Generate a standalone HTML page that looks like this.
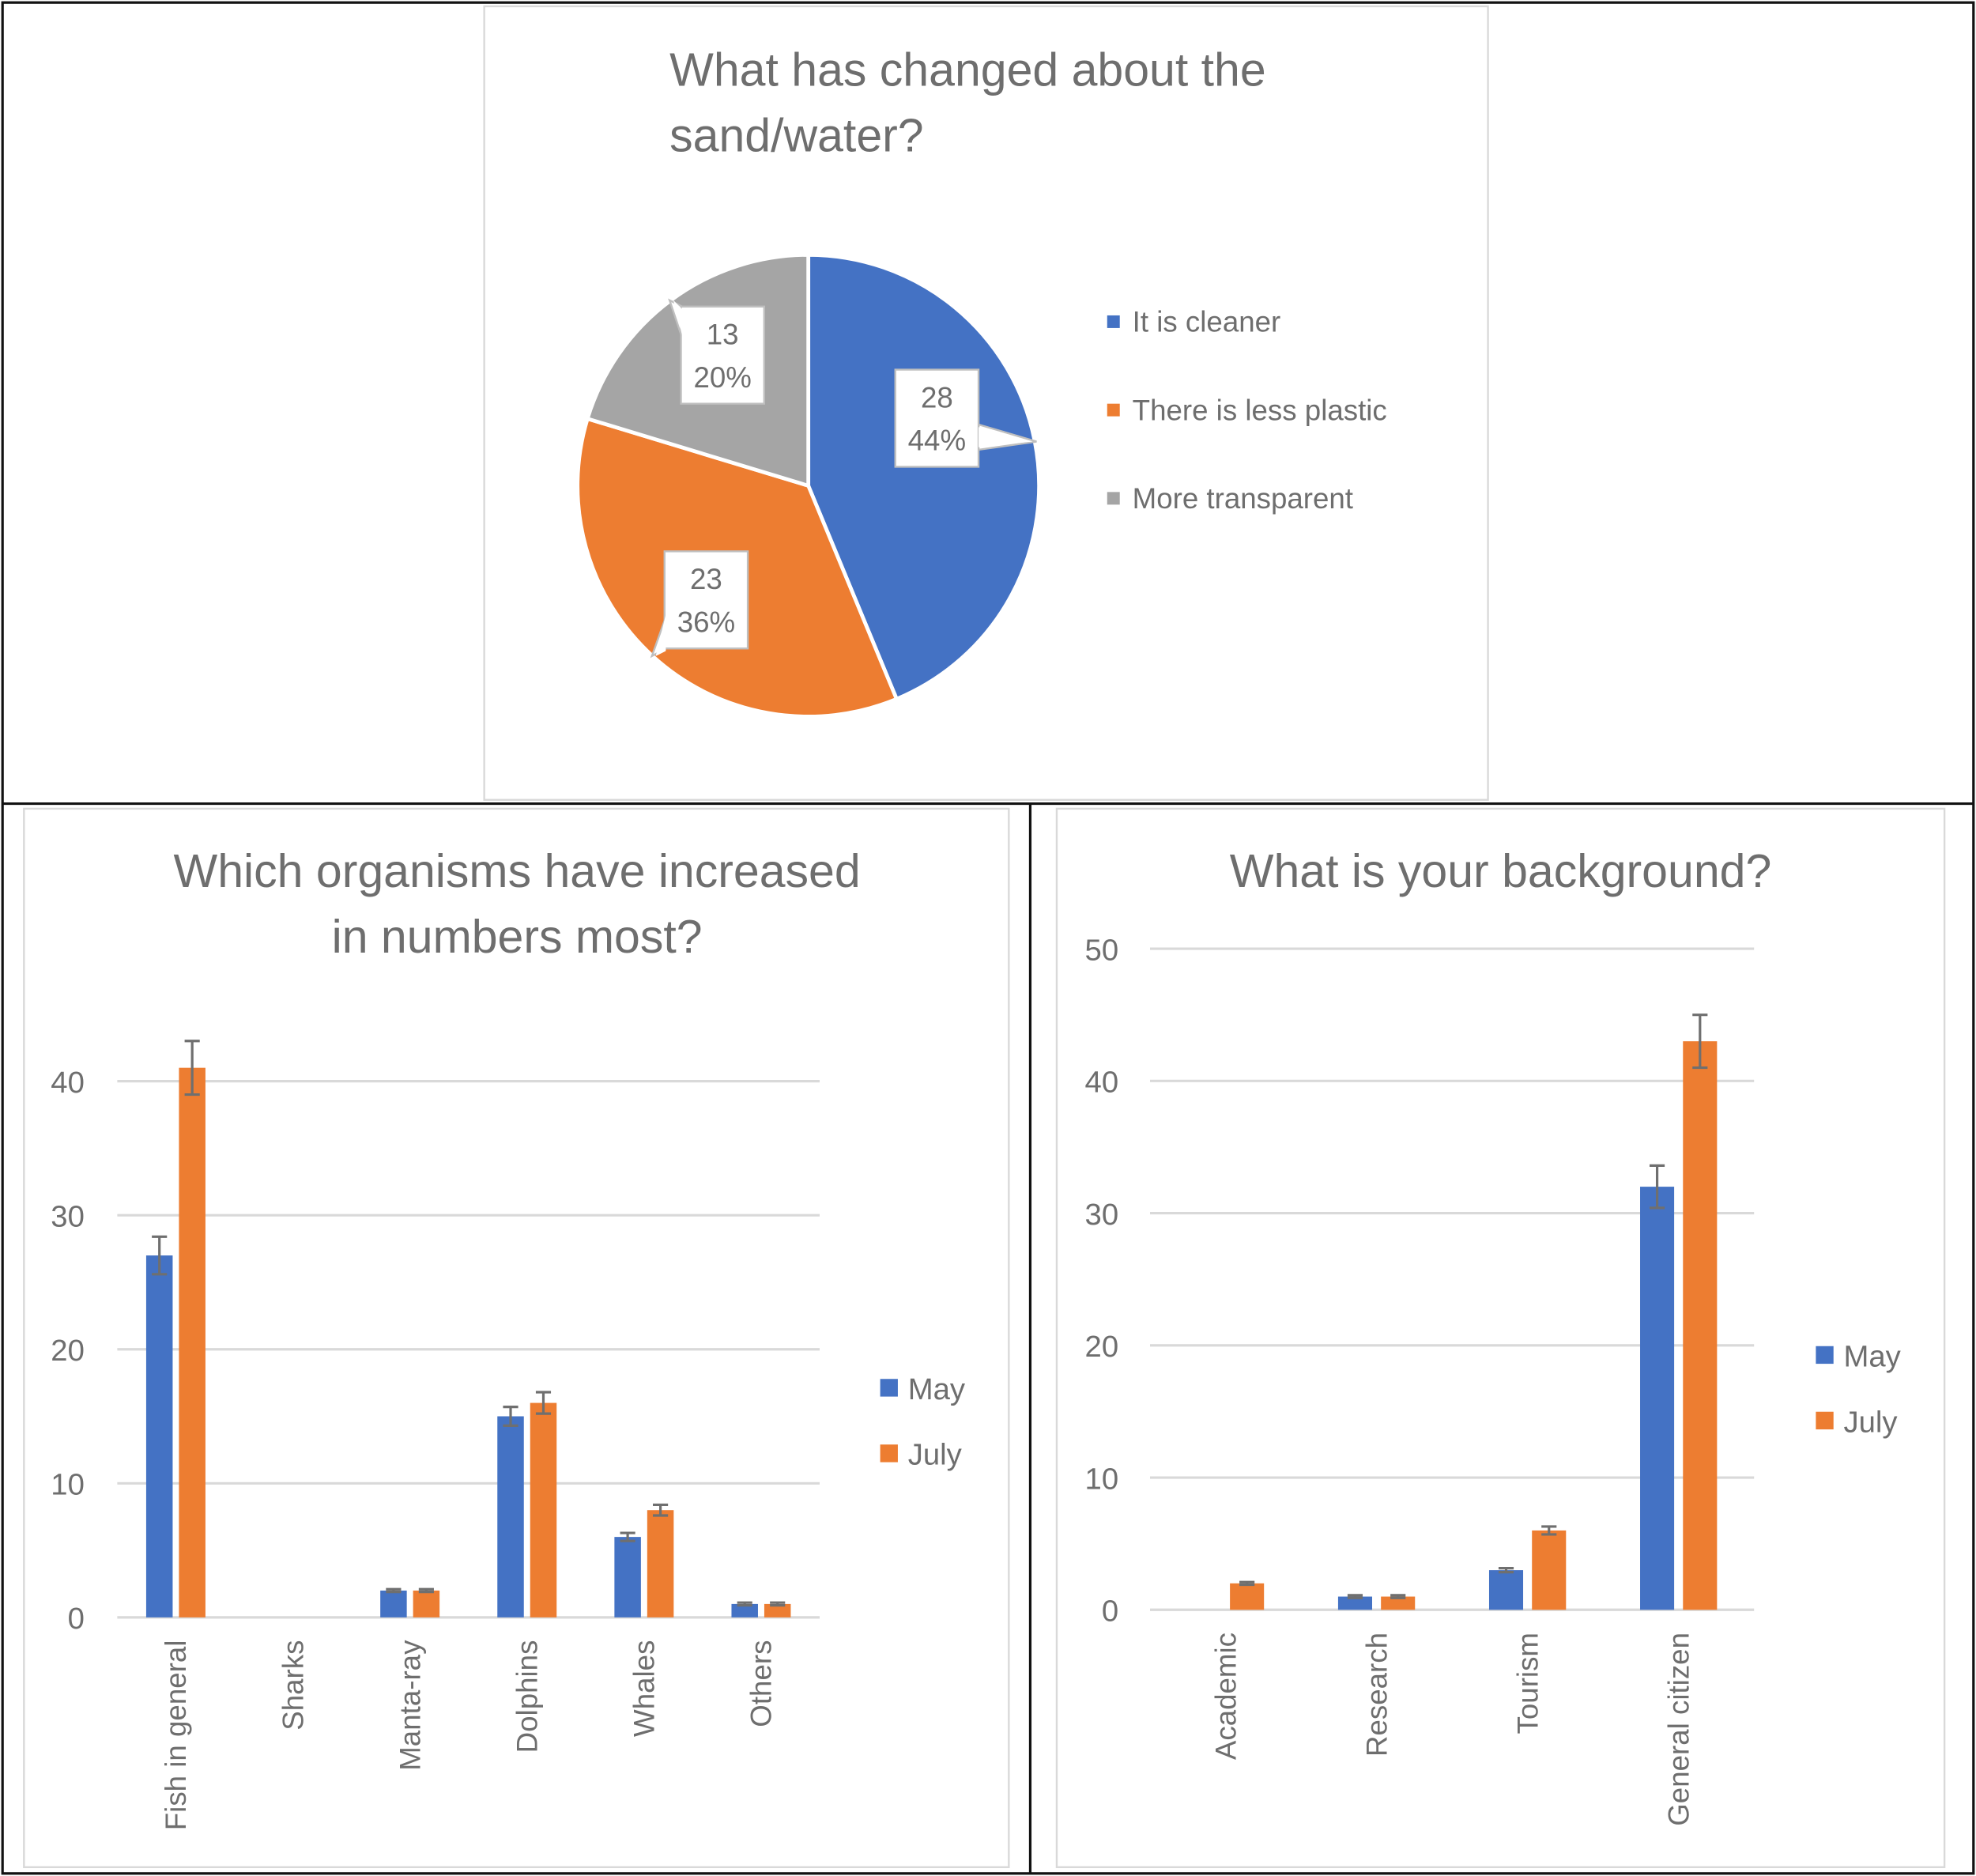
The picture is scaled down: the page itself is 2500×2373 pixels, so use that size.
<!DOCTYPE html>
<html><head><meta charset="utf-8">
<style>
html,body{margin:0;padding:0;background:#fff;}
svg{display:block;}
text{font-family:"Liberation Sans","DejaVu Sans",sans-serif;fill:#6e6e6e;}
</style></head>
<body>
<svg id="root" width="2500" height="2373" viewBox="0 0 1567 1487" preserveAspectRatio="none" xmlns="http://www.w3.org/2000/svg">
<rect x="0" y="0" width="1567" height="1487" fill="#fff"/>
<rect x="2" y="2" width="1563" height="1483" fill="none" stroke="#111" stroke-width="2"/>
<line x1="2" y1="637" x2="1565" y2="637" stroke="#111" stroke-width="2"/>
<line x1="817" y1="637" x2="817" y2="1485" stroke="#111" stroke-width="2"/>

<g id="pie-panel">
<rect x="384" y="5" width="796" height="629" fill="#fff" stroke="#d9d9d9" stroke-width="1.5"/>
<text x="531" y="68" font-size="37">What has changed about the</text>
<text x="531" y="120" font-size="37">sand/water?</text>
<g id="pie"></g>
<g id="pie-legend"></g>
</g>

<g>
<rect x="19" y="641" width="781" height="839" fill="#fff" stroke="#d9d9d9" stroke-width="1.5"/>
<text x="410" y="703" font-size="37" text-anchor="middle">Which organisms have increased</text>
<text x="410" y="755" font-size="37" text-anchor="middle">in numbers most?</text>
<g id="org"></g>
</g>

<g>
<rect x="838" y="641" width="704" height="839" fill="#fff" stroke="#d9d9d9" stroke-width="1.5"/>
<text x="1190" y="703" font-size="37" text-anchor="middle">What is your background?</text>
<g id="bg"></g>
</g>
</svg>
<script>
const NS="http://www.w3.org/2000/svg";
const BLUE="#4472c4",ORANGE="#ed7d31",GRAY="#a5a5a5";
// ---- pie data ----
const pieLabels=["It is cleaner","There is less plastic","More transparent"];
const pieValues=[28,23,13];
// ---- organisms data ----
const orgCategories=["Fish in general","Sharks","Manta-ray","Dolphins","Whales","Others"];
const orgMay=[27,0,2,15,6,1];
const orgJuly=[41,0,2,16,8,1];
const orgMayErr=[1.4,0,0.1,0.7,0.3,0.1];
const orgJulyErr=[2,0,0.1,0.8,0.4,0.1];
const orgTicks=[0,10,20,30,40];
// ---- background data ----
const bgCategories=["Academic","Research","Tourism","General citizen"];
const bgMay=[0,1,3,32];
const bgJuly=[2,1,6,43];
const bgMayErr=[0,0.1,0.15,1.6];
const bgJulyErr=[0.1,0.1,0.3,2];
const bgTicks=[0,10,20,30,40,50];
const seriesNames=["May","July"];

function el(tag,attrs,parent){const e=document.createElementNS(NS,tag);for(const k in attrs)e.setAttribute(k,attrs[k]);parent.appendChild(e);return e;}

// ---- pie ----
(function(){
 const g=document.getElementById("pie");
 const cx=641,cy=385,r=183;
 const total=pieValues.reduce((a,b)=>a+b,0);
 const colors=[BLUE,ORANGE,GRAY];
 let a0=0;
 const labelBoxes=[{x:710,y:293,tx:822,ty:350},{x:527,y:437,tx:517,ty:520},{x:540,y:243,tx:531,ty:238}];
 pieValues.forEach((v,i)=>{
  const a1=a0+v/total*2*Math.PI;
  const p=(a)=>[cx+r*Math.sin(a),cy-r*Math.cos(a)];
  const [x0,y0]=p(a0),[x1,y1]=p(a1);
  const large=(a1-a0)>Math.PI?1:0;
  const s=el("path",{d:`M${cx},${cy} L${x0},${y0} A${r},${r} 0 ${large} 1 ${x1},${y1} Z`,fill:colors[i],stroke:"#fff","stroke-width":3},g);
  
  
  a0=a1;
 });
 pieValues.forEach((v,i)=>{
  const b=labelBoxes[i],w=66,h=77;
  const pct=Math.round(v/total*100)+"%";
  // pointer
  const mx=b.x+w/2,my=b.y+h/2;
  let ax,ay,bx,by;
  if(Math.abs(b.tx-mx)>Math.abs(b.ty-my)){ax=b.x+(b.tx>mx?w:0);bx=ax;ay=my+5;by=my+25;}else{ax=b.x+(b.tx>mx?w:0)+(b.tx>mx?-1:1);bx=ax;ay=b.y+(b.ty<my?0:h);by=ay+(b.ty<my?25:-25);}
  const pt=el("polygon",{points:`${ax},${ay} ${b.tx},${b.ty} ${bx},${by}`,fill:"#fff",stroke:"#bfbfbf","stroke-width":1.5},g);
  
  
  const rc=el("rect",{x:b.x,y:b.y,width:w,height:h,fill:"#fff",stroke:"#bfbfbf","stroke-width":1.5},g);
  
  
  el("polygon",{points:`${ax},${ay+2} ${b.tx-(b.tx>mx?3:-3)},${b.ty} ${bx},${by-2}`,fill:"#fff"},g);
  const t1=el("text",{x:mx,y:b.y+30,"font-size":23,"text-anchor":"middle"},g);t1.textContent=v;
  
  
  const t2=el("text",{x:mx,y:b.y+64,"font-size":23,"text-anchor":"middle"},g);t2.textContent=pct;
  
  
 });
 const lg=document.getElementById("pie-legend");
 pieLabels.forEach((l,i)=>{
  const y=255+i*70;
  const sq=el("rect",{x:878,y:y-5,width:10,height:10,fill:colors[i]},lg);
  
  
  const t=el("text",{x:898,y:y+8,"font-size":23},lg);t.textContent=l;
  
  
 });
})();

function barChart(gid,cats,may,july,mayErr,julyErr,ticks,cfg,prefix){
 const g=document.getElementById(gid);
 const yS=v=>cfg.y0-(v-ticks[0])/(ticks[ticks.length-1]-ticks[0])*(cfg.y0-cfg.yTop);
 ticks.forEach(t=>{
  const y=yS(t);
  const l=el("line",{x1:cfg.x0,x2:cfg.x1,y1:y,y2:y,stroke:"#d9d9d9","stroke-width":2},g);
  
  
  const tx=el("text",{x:cfg.tickX,y:y+9,"font-size":24,"text-anchor":"end"},g);tx.textContent=t;
  
  
 });
 const band=(cfg.x1-cfg.x0)/cats.length;
 cats.forEach((c,i)=>{
  const cx=cfg.x0+band*(i+0.5);
  [[may,mayErr,BLUE,-1],[july,julyErr,ORANGE,1]].forEach(([vals,errs,col,side],si)=>{
   const v=vals[i];
   const bx=side<0?cx-cfg.gap/2-cfg.bw:cx+cfg.gap/2;
   if(v>0){
    const r=el("rect",{x:bx,y:yS(v),width:cfg.bw,height:yS(0)-yS(v),fill:col},g);
    
    
    const ex=bx+cfg.bw/2,e=errs[i];
    const eg=el("path",{d:`M${ex},${yS(v+e)} V${yS(v-e)} M${ex-6},${yS(v+e)} H${ex+6} M${ex-6},${yS(v-e)} H${ex+6}`,stroke:"#6f6f6f","stroke-width":2,fill:"none"},g);
    
    
   }
  });
  const t=el("text",{x:0,y:0,"font-size":23,"text-anchor":"end",transform:`translate(${cx+8},${cfg.y0+18}) rotate(-90)`},g);t.textContent=c;
  
  
 });
 seriesNames.forEach((s,i)=>{
  const y=cfg.legY+i*52;
  const sq=el("rect",{x:cfg.legX,y:y-7,width:14,height:14,fill:i?ORANGE:BLUE},g);
  
  
  const t=el("text",{x:cfg.legX+22,y:y+9,"font-size":24},g);t.textContent=s;
  
  
 });
}
barChart("org",orgCategories,orgMay,orgJuly,orgMayErr,orgJulyErr,orgTicks,
 {x0:93,x1:650,y0:1282,yTop:857,tickX:67,bw:21,gap:5,legX:698,legY:1100},"organisms");
barChart("bg",bgCategories,bgMay,bgJuly,bgMayErr,bgJulyErr,bgTicks,
 {x0:912,x1:1391,y0:1276,yTop:752,tickX:887,bw:27,gap:7,legX:1440,legY:1074},"background");
</script>
</body></html>
